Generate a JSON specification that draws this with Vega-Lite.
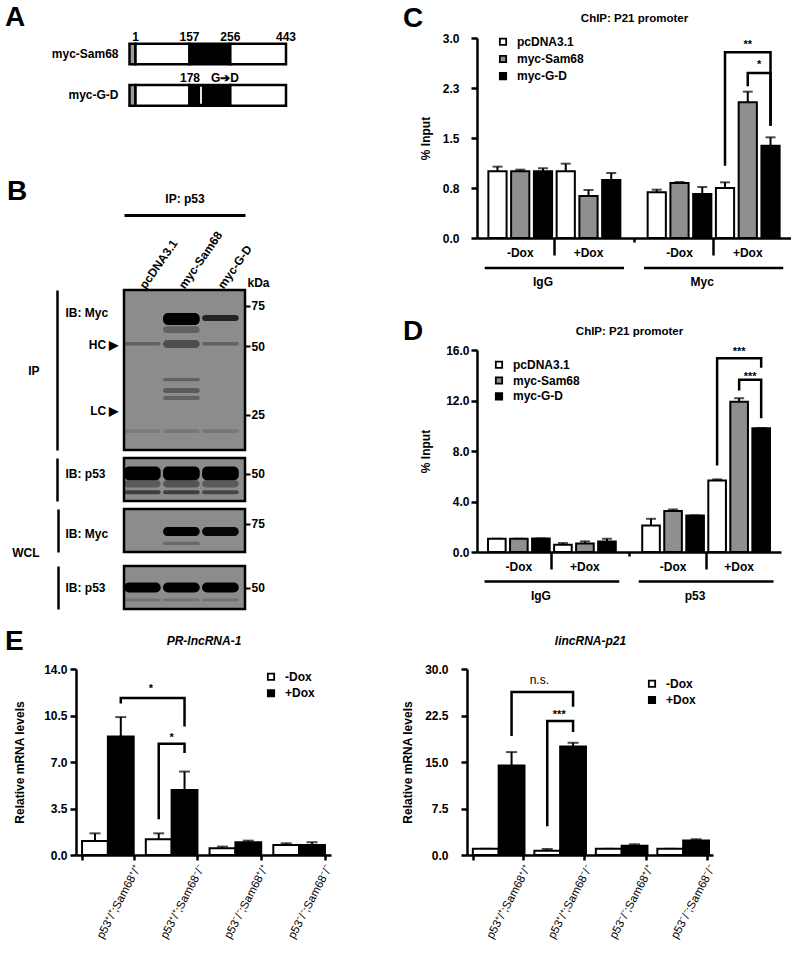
{
"$schema": "https://vega.github.io/schema/vega-lite/v6.json",
"background": "white",
"padding": {"left": 5, "top": 3, "right": 0, "bottom": 0},
"config": {
  "font": "Liberation Sans",
  "view": {"stroke": null},
  "axis": {"labelFontWeight": "bold", "labelFontSize": 12, "labelColor": "black", "titleFontWeight": "bold", "titleFontSize": 12, "titleColor": "black", "domainColor": "black", "tickColor": "black", "domainWidth": 2.5, "tickWidth": 2.5, "grid": false, "labelFlush": false, "labelOverlap": false, "labelBound": false},
  "legend": {"labelFontWeight": "bold", "labelFontSize": 12, "labelColor": "black", "symbolType": "square", "symbolSize": 40, "symbolStrokeColor": "black", "symbolStrokeWidth": 1.8, "rowPadding": 3, "labelOffset": 8, "padding": 0, "clipHeight": 13.5},
  "title": {"fontSize": 28, "fontWeight": "bold", "color": "black", "anchor": "start", "frame": "group", "baseline": "alphabetic", "offset": 0},
  "text": {"color": "black"}
},
"datasets": {
  "a_segments": [
    {"construct": "myc-Sam68", "region": "myc tag", "start": -14, "end": 1},
    {"construct": "myc-Sam68", "region": "N-terminal", "start": 1, "end": 157},
    {"construct": "myc-Sam68", "region": "KH domain", "start": 157, "end": 256},
    {"construct": "myc-Sam68", "region": "C-terminal", "start": 256, "end": 443},
    {"construct": "myc-G-D", "region": "myc tag", "start": -14, "end": 1},
    {"construct": "myc-G-D", "region": "N-terminal", "start": 1, "end": 157},
    {"construct": "myc-G-D", "region": "KH domain", "start": 157, "end": 256},
    {"construct": "myc-G-D", "region": "C-terminal", "start": 256, "end": 443}
  ],
  "b_s1": [
    {"lane": "2", "hi": 69.8, "lo": 61.8, "intensity": 1},
    {"lane": "3", "hi": 68.4, "lo": 64.3, "intensity": 0.75},
    {"lane": "2", "hi": 61.0, "lo": 57.0, "intensity": 0.3},
    {"lane": "1", "hi": 52.0, "lo": 50.3, "intensity": 0.3},
    {"lane": "2", "hi": 53.1, "lo": 49.0, "intensity": 0.45},
    {"lane": "3", "hi": 52.0, "lo": 50.3, "intensity": 0.3},
    {"lane": "2", "hi": 36.2, "lo": 35.0, "intensity": 0.3},
    {"lane": "2", "hi": 32.7, "lo": 31.1, "intensity": 0.35},
    {"lane": "2", "hi": 30.2, "lo": 29.0, "intensity": 0.3},
    {"lane": "1", "hi": 21.6, "lo": 20.8, "intensity": 0.12},
    {"lane": "2", "hi": 21.6, "lo": 20.8, "intensity": 0.15},
    {"lane": "3", "hi": 21.6, "lo": 20.8, "intensity": 0.15}
  ],
  "b_s2": [
    {"lane": "1", "hi": 53.8, "lo": 46.8, "intensity": 1},
    {"lane": "2", "hi": 53.8, "lo": 46.8, "intensity": 1},
    {"lane": "3", "hi": 53.8, "lo": 46.8, "intensity": 1},
    {"lane": "1", "hi": 46.8, "lo": 43.5, "intensity": 0.35},
    {"lane": "2", "hi": 46.8, "lo": 43.5, "intensity": 0.4},
    {"lane": "3", "hi": 46.8, "lo": 43.5, "intensity": 0.35},
    {"lane": "1", "hi": 42.3, "lo": 40.6, "intensity": 0.55},
    {"lane": "2", "hi": 42.3, "lo": 40.6, "intensity": 0.55},
    {"lane": "3", "hi": 42.3, "lo": 40.6, "intensity": 0.5}
  ],
  "b_s3": [
    {"lane": "2", "hi": 72.5, "lo": 66.2, "intensity": 1},
    {"lane": "3", "hi": 72.5, "lo": 66.2, "intensity": 0.95},
    {"lane": "2", "hi": 62.5, "lo": 60.5, "intensity": 0.25}
  ],
  "b_s4": [
    {"lane": "1", "hi": 52.6, "lo": 47.6, "intensity": 1},
    {"lane": "2", "hi": 52.6, "lo": 47.6, "intensity": 1},
    {"lane": "3", "hi": 52.6, "lo": 47.6, "intensity": 1},
    {"lane": "1", "hi": 44.8, "lo": 43.6, "intensity": 0.18},
    {"lane": "2", "hi": 44.8, "lo": 43.6, "intensity": 0.18},
    {"lane": "3", "hi": 44.8, "lo": 43.6, "intensity": 0.18}
  ],
  "c_bars": [
    {"bar": "IgG -Dox pcDNA3.1", "plasmid": "pcDNA3.1", "mean": 1.0, "err": 1.07},
    {"bar": "IgG -Dox myc-Sam68", "plasmid": "myc-Sam68", "mean": 1.0, "err": 1.025},
    {"bar": "IgG -Dox myc-G-D", "plasmid": "myc-G-D", "mean": 1.0, "err": 1.045},
    {"bar": "IgG +Dox pcDNA3.1", "plasmid": "pcDNA3.1", "mean": 1.0, "err": 1.115},
    {"bar": "IgG +Dox myc-Sam68", "plasmid": "myc-Sam68", "mean": 0.63, "err": 0.72},
    {"bar": "IgG +Dox myc-G-D", "plasmid": "myc-G-D", "mean": 0.87, "err": 0.975},
    {"bar": "Myc -Dox pcDNA3.1", "plasmid": "pcDNA3.1", "mean": 0.685, "err": 0.725},
    {"bar": "Myc -Dox myc-Sam68", "plasmid": "myc-Sam68", "mean": 0.825, "err": 0.84},
    {"bar": "Myc -Dox myc-G-D", "plasmid": "myc-G-D", "mean": 0.66, "err": 0.765},
    {"bar": "Myc +Dox pcDNA3.1", "plasmid": "pcDNA3.1", "mean": 0.75, "err": 0.835},
    {"bar": "Myc +Dox myc-Sam68", "plasmid": "myc-Sam68", "mean": 2.035, "err": 2.195},
    {"bar": "Myc +Dox myc-G-D", "plasmid": "myc-G-D", "mean": 1.385, "err": 1.51}
  ],
  "c_br": [
    {"br": "a", "ord": 1, "bar": "Myc +Dox pcDNA3.1", "y": 1.085},
    {"br": "a", "ord": 2, "bar": "Myc +Dox pcDNA3.1", "y": 2.785},
    {"br": "a", "ord": 3, "bar": "Myc +Dox myc-G-D", "y": 2.785},
    {"br": "a", "ord": 4, "bar": "Myc +Dox myc-G-D", "y": 1.685},
    {"br": "b", "ord": 1, "bar": "Myc +Dox myc-Sam68", "y": 2.275},
    {"br": "b", "ord": 2, "bar": "Myc +Dox myc-Sam68", "y": 2.475},
    {"br": "b", "ord": 3, "bar": "Myc +Dox myc-G-D", "y": 2.475},
    {"br": "b", "ord": 4, "bar": "Myc +Dox myc-G-D", "y": 1.685}
  ],
  "c_groups": [
    {"group": "IgG", "bar": "IgG -Dox pcDNA3.1", "to": "IgG +Dox myc-G-D"},
    {"group": "Myc", "bar": "Myc -Dox pcDNA3.1", "to": "Myc +Dox myc-G-D"}
  ],
  "d_bars": [
    {"bar": "IgG -Dox pcDNA3.1", "plasmid": "pcDNA3.1", "mean": 1.05, "err": 1.05},
    {"bar": "IgG -Dox myc-Sam68", "plasmid": "myc-Sam68", "mean": 1.05, "err": 1.05},
    {"bar": "IgG -Dox myc-G-D", "plasmid": "myc-G-D", "mean": 1.07, "err": 1.07},
    {"bar": "IgG +Dox pcDNA3.1", "plasmid": "pcDNA3.1", "mean": 0.58, "err": 0.71},
    {"bar": "IgG +Dox myc-Sam68", "plasmid": "myc-Sam68", "mean": 0.68, "err": 0.84},
    {"bar": "IgG +Dox myc-G-D", "plasmid": "myc-G-D", "mean": 0.84, "err": 1.05},
    {"bar": "p53 -Dox pcDNA3.1", "plasmid": "pcDNA3.1", "mean": 2.1, "err": 2.63},
    {"bar": "p53 -Dox myc-Sam68", "plasmid": "myc-Sam68", "mean": 3.24, "err": 3.37},
    {"bar": "p53 -Dox myc-G-D", "plasmid": "myc-G-D", "mean": 2.9, "err": 2.9},
    {"bar": "p53 +Dox pcDNA3.1", "plasmid": "pcDNA3.1", "mean": 5.67, "err": 5.75},
    {"bar": "p53 +Dox myc-Sam68", "plasmid": "myc-Sam68", "mean": 11.91, "err": 12.18},
    {"bar": "p53 +Dox myc-G-D", "plasmid": "myc-G-D", "mean": 9.81, "err": 9.81}
  ],
  "d_br": [
    {"br": "a", "ord": 1, "bar": "p53 +Dox pcDNA3.1", "y": 6.85},
    {"br": "a", "ord": 2, "bar": "p53 +Dox pcDNA3.1", "y": 15.35},
    {"br": "a", "ord": 3, "bar": "p53 +Dox myc-G-D", "y": 15.35},
    {"br": "a", "ord": 4, "bar": "p53 +Dox myc-G-D", "y": 14.6},
    {"br": "b", "ord": 1, "bar": "p53 +Dox myc-Sam68", "y": 12.79},
    {"br": "b", "ord": 2, "bar": "p53 +Dox myc-Sam68", "y": 13.64},
    {"br": "b", "ord": 3, "bar": "p53 +Dox myc-G-D", "y": 13.64},
    {"br": "b", "ord": 4, "bar": "p53 +Dox myc-G-D", "y": 10.6}
  ],
  "d_groups": [
    {"group": "IgG", "bar": "IgG -Dox pcDNA3.1", "to": "IgG +Dox myc-G-D"},
    {"group": "p53", "bar": "p53 -Dox pcDNA3.1", "to": "p53 +Dox myc-G-D"}
  ],
  "e1_bars": [
    {"genotype": "p53⁺/⁺;Sam68⁺/⁺", "dox": "-Dox", "mean": 1.06, "err": 1.63},
    {"genotype": "p53⁺/⁺;Sam68⁺/⁺", "dox": "+Dox", "mean": 8.92, "err": 10.38},
    {"genotype": "p53⁺/⁺;Sam68⁻/⁻", "dox": "-Dox", "mean": 1.18, "err": 1.63},
    {"genotype": "p53⁺/⁺;Sam68⁻/⁻", "dox": "+Dox", "mean": 4.9, "err": 6.28},
    {"genotype": "p53⁻/⁻;Sam68⁺/⁺", "dox": "-Dox", "mean": 0.5, "err": 0.63},
    {"genotype": "p53⁻/⁻;Sam68⁺/⁺", "dox": "+Dox", "mean": 0.96, "err": 1.08},
    {"genotype": "p53⁻/⁻;Sam68⁻/⁻", "dox": "-Dox", "mean": 0.75, "err": 0.88},
    {"genotype": "p53⁻/⁻;Sam68⁻/⁻", "dox": "+Dox", "mean": 0.75, "err": 0.96}
  ],
  "e1_br": [
    {"br": "a", "ord": 1, "genotype": "p53⁺/⁺;Sam68⁺/⁺", "dox": "+Dox", "y": 11.4},
    {"br": "a", "ord": 2, "genotype": "p53⁺/⁺;Sam68⁺/⁺", "dox": "+Dox", "y": 11.82},
    {"br": "a", "ord": 3, "genotype": "p53⁺/⁺;Sam68⁻/⁻", "dox": "+Dox", "y": 11.82},
    {"br": "a", "ord": 4, "genotype": "p53⁺/⁺;Sam68⁻/⁻", "dox": "+Dox", "y": 9.68},
    {"br": "b", "ord": 1, "genotype": "p53⁺/⁺;Sam68⁻/⁻", "dox": "-Dox", "y": 2.69},
    {"br": "b", "ord": 2, "genotype": "p53⁺/⁺;Sam68⁻/⁻", "dox": "-Dox", "y": 8.37},
    {"br": "b", "ord": 3, "genotype": "p53⁺/⁺;Sam68⁻/⁻", "dox": "+Dox", "y": 8.37},
    {"br": "b", "ord": 4, "genotype": "p53⁺/⁺;Sam68⁻/⁻", "dox": "+Dox", "y": 7.67}
  ],
  "e2_bars": [
    {"genotype": "p53⁺/⁺;Sam68⁺/⁺", "dox": "-Dox", "mean": 1.0, "err": 1.0},
    {"genotype": "p53⁺/⁺;Sam68⁺/⁺", "dox": "+Dox", "mean": 14.45, "err": 16.6},
    {"genotype": "p53⁺/⁺;Sam68⁻/⁻", "dox": "-Dox", "mean": 0.7, "err": 0.97},
    {"genotype": "p53⁺/⁺;Sam68⁻/⁻", "dox": "+Dox", "mean": 17.52, "err": 18.1},
    {"genotype": "p53⁻/⁻;Sam68⁺/⁺", "dox": "-Dox", "mean": 1.0, "err": 1.0},
    {"genotype": "p53⁻/⁻;Sam68⁺/⁺", "dox": "+Dox", "mean": 1.5, "err": 1.73},
    {"genotype": "p53⁻/⁻;Sam68⁻/⁻", "dox": "-Dox", "mean": 1.0, "err": 1.0},
    {"genotype": "p53⁻/⁻;Sam68⁻/⁻", "dox": "+Dox", "mean": 2.32, "err": 2.54}
  ],
  "e2_br": [
    {"br": "a", "ord": 1, "genotype": "p53⁺/⁺;Sam68⁺/⁺", "dox": "+Dox", "y": 19.2},
    {"br": "a", "ord": 2, "genotype": "p53⁺/⁺;Sam68⁺/⁺", "dox": "+Dox", "y": 26.3},
    {"br": "a", "ord": 3, "genotype": "p53⁺/⁺;Sam68⁻/⁻", "dox": "+Dox", "y": 26.3},
    {"br": "a", "ord": 4, "genotype": "p53⁺/⁺;Sam68⁻/⁻", "dox": "+Dox", "y": 23.9},
    {"br": "b", "ord": 1, "genotype": "p53⁺/⁺;Sam68⁻/⁻", "dox": "-Dox", "y": 4.64},
    {"br": "b", "ord": 2, "genotype": "p53⁺/⁺;Sam68⁻/⁻", "dox": "-Dox", "y": 21.6},
    {"br": "b", "ord": 3, "genotype": "p53⁺/⁺;Sam68⁻/⁻", "dox": "+Dox", "y": 21.6},
    {"br": "b", "ord": 4, "genotype": "p53⁺/⁺;Sam68⁻/⁻", "dox": "+Dox", "y": 19.85}
  ]
},
"resolve": {"scale": {"fill": "independent"}, "legend": {"fill": "independent"}},
"columns": 1,
"align": "none",
"spacing": 17,
"concat": [
 {
  "resolve": {"scale": {"fill": "independent"}, "legend": {"fill": "independent"}},
  "columns": 2,
  "align": "none",
  "spacing": 106,
  "concat": [
   {
    "resolve": {"scale": {"fill": "independent"}, "legend": {"fill": "independent"}},
    "spacing": 4,
    "vconcat": [
     {
      "width": 165, "height": 134,
      "title": {"text": "A", "dx": -119, "dy": 4.5},
      "layer": [
       {"data": {"name": "a_segments"}, "mark": {"type": "rect", "stroke": "black", "strokeWidth": 2.5},
        "encoding": {
         "x": {"field": "start", "type": "quantitative", "scale": {"domain": [-14, 1, 157, 178, 256, 443], "range": [5.5, 11.5, 65.5, 77, 106.3, 162], "nice": false, "zero": false}, "axis": null},
         "x2": {"field": "end"},
         "y": {"field": "construct", "type": "nominal", "scale": {"type": "band", "domain": ["myc-Sam68", "myc-G-D"], "range": [-4.65, 77.95], "paddingInner": 0.5, "paddingOuter": 0.25}, "axis": {"ticks": false, "domain": false, "labelPadding": 6, "title": null}},
         "fill": {"field": "region", "type": "nominal", "scale": {"domain": ["myc tag", "N-terminal", "KH domain", "C-terminal"], "range": ["#9a9a9a", "white", "black", "white"]}, "legend": null}
        }},
       {"data": {"values": [{"construct": "myc-G-D", "site": 178}]}, "mark": {"type": "tick", "color": "white", "thickness": 1.8, "size": 17, "opacity": 1},
        "encoding": {"x": {"field": "site", "type": "quantitative", "axis": null}, "y": {"field": "construct", "type": "nominal", "axis": null}}},
       {"data": {"values": [{"construct": "myc-Sam68", "pos": 1, "label": "1"}, {"construct": "myc-Sam68", "pos": 157, "label": "157"}, {"construct": "myc-Sam68", "pos": 256, "label": "256"}, {"construct": "myc-Sam68", "pos": 443, "label": "443"}]},
        "mark": {"type": "text", "fontSize": 12, "fontWeight": "bold", "baseline": "middle", "dy": -17},
        "encoding": {"x": {"field": "pos", "type": "quantitative", "axis": null}, "y": {"field": "construct", "type": "nominal", "axis": null}, "text": {"field": "label"}}},
       {"data": {"values": [{"construct": "myc-G-D", "pos": 178, "label": "178"}]},
        "mark": {"type": "text", "fontSize": 12, "fontWeight": "bold", "baseline": "middle", "align": "right", "dy": -17, "dx": -1},
        "encoding": {"x": {"field": "pos", "type": "quantitative", "axis": null}, "y": {"field": "construct", "type": "nominal", "axis": null}, "text": {"field": "label"}}},
       {"data": {"values": [{"construct": "myc-G-D", "pos": 178, "label": "G➔D"}]},
        "mark": {"type": "text", "fontSize": 12, "fontWeight": "bold", "baseline": "middle", "align": "left", "dy": -17, "dx": 10},
        "encoding": {"x": {"field": "pos", "type": "quantitative", "axis": null}, "y": {"field": "construct", "type": "nominal", "axis": null}, "text": {"field": "label"}}}
      ],
      "resolve": {"axis": {"x": "independent", "y": "independent"}}
     },
     {
      "width": 121, "height": 160,
      "title": {"text": "B", "dx": -117, "dy": 18},
      "view": {"fill": "#8c8c8c", "stroke": "black", "strokeWidth": 2.5},
      "layer": [
       {"data": {"name": "b_s1"}, "mark": {"type": "rect", "cornerRadius": 5, "fill": "black"},
        "encoding": {
         "x": {"field": "lane", "type": "nominal", "scale": {"type": "band", "domain": ["1", "2", "3"], "paddingInner": 0.06, "paddingOuter": 0.08, "align": 0},
               "axis": {"orient": "top", "labelExpr": "['pcDNA3.1','myc-Sam68','myc-G-D'][toNumber(datum.value)-1]", "labelAngle": -55, "labelAlign": "left", "labelBaseline": "middle", "ticks": false, "domain": false, "labelPadding": 3, "title": null}},
         "y": {"field": "hi", "type": "quantitative", "scale": {"type": "log", "domain": [17.5, 88], "nice": false},
               "axis": {"orient": "right", "values": [25, 50, 75], "tickSize": 5, "tickWidth": 2, "labelPadding": 1, "domain": false, "title": "kDa", "titleAngle": 0, "titleAlign": "left", "titleBaseline": "bottom", "titleX": 2, "titleY": -1}},
         "y2": {"field": "lo"},
         "opacity": {"field": "intensity", "type": "quantitative", "scale": null, "legend": null}
        }},
       {"data": {"values": [{"lane": "1", "kda": 50}]}, "mark": {"type": "point", "opacity": 0},
        "encoding": {
         "x": {"field": "lane", "type": "nominal", "axis": {"orient": "top", "offset": 75, "labels": false, "ticks": false, "domain": true, "domainWidth": 3, "title": "IP: p53", "titlePadding": 10}},
         "y": {"field": "kda", "type": "quantitative", "axis": {"orient": "left", "values": [51, 26], "labelExpr": "datum.value > 40 ? 'HC ▶' : 'LC ▶'", "ticks": false, "domain": false, "labelPadding": 6, "title": null}}
        }},
       {"data": {"values": [{"lane": "1", "kda": 50}]}, "mark": {"type": "point", "opacity": 0},
        "encoding": {
         "x": {"field": "lane", "type": "nominal", "axis": null},
         "y": {"field": "kda", "type": "quantitative", "axis": {"orient": "left", "values": [69.8], "labelExpr": "'IB: Myc'", "labelAlign": "left", "ticks": false, "domain": false, "labelPadding": 59, "title": null}}
        }},
       {"data": {"values": [{"lane": "1", "kda": 50}]}, "mark": {"type": "point", "opacity": 0},
        "encoding": {
         "x": {"field": "lane", "type": "nominal", "axis": null},
         "y": {"field": "kda", "type": "quantitative", "axis": {"orient": "left", "offset": 67, "labels": false, "ticks": false, "domain": true, "title": "IP", "titleAngle": 0, "titleAlign": "right", "titleBaseline": "middle", "titlePadding": 18}}
        }}
      ],
      "resolve": {"axis": {"x": "independent", "y": "independent"}}
     },
     {
      "width": 121, "height": 43,
      "view": {"fill": "#8c8c8c", "stroke": "black", "strokeWidth": 2.5},
      "layer": [
       {"data": {"name": "b_s2"}, "mark": {"type": "rect", "cornerRadius": 5, "fill": "black"},
        "encoding": {
         "x": {"field": "lane", "type": "nominal", "scale": {"type": "band", "domain": ["1", "2", "3"], "paddingInner": 0.06, "paddingOuter": 0.08, "align": 0}, "axis": null},
         "y": {"field": "hi", "type": "quantitative", "scale": {"type": "log", "domain": [37.9, 58.6], "nice": false},
               "axis": {"orient": "right", "values": [50], "tickSize": 5, "tickWidth": 2, "labelPadding": 1, "domain": false, "title": null}},
         "y2": {"field": "lo"},
         "opacity": {"field": "intensity", "type": "quantitative", "scale": null, "legend": null}
        }},
       {"data": {"values": [{"lane": "1", "kda": 50}]}, "mark": {"type": "point", "opacity": 0},
        "encoding": {
         "x": {"field": "lane", "type": "nominal", "axis": null},
         "y": {"field": "kda", "type": "quantitative", "axis": {"orient": "left", "values": [50], "labelExpr": "'IB: p53'", "labelAlign": "left", "ticks": false, "domain": false, "labelPadding": 59, "title": null}}
        }},
       {"data": {"values": [{"lane": "1", "kda": 50}]}, "mark": {"type": "point", "opacity": 0},
        "encoding": {
         "x": {"field": "lane", "type": "nominal", "axis": null},
         "y": {"field": "kda", "type": "quantitative", "axis": {"orient": "left", "offset": 67, "labels": false, "ticks": false, "domain": true, "title": null}}
        }}
      ],
      "resolve": {"axis": {"y": "independent"}}
     },
     {
      "width": 121, "height": 43,
      "view": {"fill": "#8c8c8c", "stroke": "black", "strokeWidth": 2.5},
      "layer": [
       {"data": {"name": "b_s3"}, "mark": {"type": "rect", "cornerRadius": 5, "fill": "black"},
        "encoding": {
         "x": {"field": "lane", "type": "nominal", "scale": {"type": "band", "domain": ["1", "2", "3"], "paddingInner": 0.06, "paddingOuter": 0.08, "align": 0}, "axis": null},
         "y": {"field": "hi", "type": "quantitative", "scale": {"type": "log", "domain": [56.4, 87], "nice": false},
               "axis": {"orient": "right", "values": [75], "tickSize": 5, "tickWidth": 2, "labelPadding": 1, "domain": false, "title": null}},
         "y2": {"field": "lo"},
         "opacity": {"field": "intensity", "type": "quantitative", "scale": null, "legend": null}
        }},
       {"data": {"values": [{"lane": "1", "kda": 70}]}, "mark": {"type": "point", "opacity": 0},
        "encoding": {
         "x": {"field": "lane", "type": "nominal", "axis": null},
         "y": {"field": "kda", "type": "quantitative", "axis": {"orient": "left", "values": [67.8], "labelExpr": "'IB: Myc'", "labelAlign": "left", "ticks": false, "domain": false, "labelPadding": 59, "title": null}}
        }},
       {"data": {"values": [{"lane": "1", "kda": 70}]}, "mark": {"type": "point", "opacity": 0},
        "encoding": {
         "x": {"field": "lane", "type": "nominal", "axis": null},
         "y": {"field": "kda", "type": "quantitative", "axis": {"orient": "left", "offset": 66, "labels": false, "ticks": false, "domain": true, "title": "WCL", "titleAngle": 0, "titleAlign": "right", "titleBaseline": "middle", "titleAnchor": "start", "titlePadding": 19}}
        }}
      ],
      "resolve": {"axis": {"y": "independent"}}
     },
     {
      "width": 121, "height": 43,
      "view": {"fill": "#8c8c8c", "stroke": "black", "strokeWidth": 2.5},
      "layer": [
       {"data": {"name": "b_s4"}, "mark": {"type": "rect", "cornerRadius": 5, "fill": "black"},
        "encoding": {
         "x": {"field": "lane", "type": "nominal", "scale": {"type": "band", "domain": ["1", "2", "3"], "paddingInner": 0.06, "paddingOuter": 0.08, "align": 0},
               "axis": {"orient": "bottom", "labelAngle": 0, "ticks": false, "domain": false, "labelPadding": 8, "title": null}},
         "y": {"field": "hi", "type": "quantitative", "scale": {"type": "log", "domain": [40.3, 62.2], "nice": false},
               "axis": {"orient": "right", "values": [50], "tickSize": 5, "tickWidth": 2, "labelPadding": 1, "domain": false, "title": null}},
         "y2": {"field": "lo"},
         "opacity": {"field": "intensity", "type": "quantitative", "scale": null, "legend": null}
        }},
       {"data": {"values": [{"lane": "1", "kda": 50}]}, "mark": {"type": "point", "opacity": 0},
        "encoding": {
         "x": {"field": "lane", "type": "nominal", "axis": null},
         "y": {"field": "kda", "type": "quantitative", "axis": {"orient": "left", "values": [50.3], "labelExpr": "'IB: p53'", "labelAlign": "left", "ticks": false, "domain": false, "labelPadding": 59, "title": null}}
        }},
       {"data": {"values": [{"lane": "1", "kda": 50}]}, "mark": {"type": "point", "opacity": 0},
        "encoding": {
         "x": {"field": "lane", "type": "nominal", "axis": null},
         "y": {"field": "kda", "type": "quantitative", "axis": {"orient": "left", "offset": 66, "labels": false, "ticks": false, "domain": true, "title": null}}
        }}
      ],
      "resolve": {"axis": {"y": "independent"}}
     }
    ]
   },
   {
    "resolve": {"scale": {"fill": "independent"}, "legend": {"fill": "independent"}},
    "spacing": 30,
    "vconcat": [
     {
      "width": 314, "height": 200,
      "title": {"text": "C", "dx": -74, "dy": 25},
      "layer": [
       {"data": {"name": "c_bars"}, "mark": {"type": "rule", "strokeWidth": 2, "color": "black"},
        "encoding": {
         "x": {"field": "bar", "type": "nominal", "scale": {"type": "band", "domain": ["IgG -Dox pcDNA3.1", "IgG -Dox myc-Sam68", "IgG -Dox myc-G-D", "IgG +Dox pcDNA3.1", "IgG +Dox myc-Sam68", "IgG +Dox myc-G-D", "gap", "Myc -Dox pcDNA3.1", "Myc -Dox myc-Sam68", "Myc -Dox myc-G-D", "Myc +Dox pcDNA3.1", "Myc +Dox myc-Sam68", "Myc +Dox myc-G-D"], "paddingInner": 0.2, "paddingOuter": 0.5},
               "axis": {"orient": "bottom", "values": ["IgG -Dox myc-G-D", "Myc -Dox myc-G-D"], "bandPosition": 1.125, "labelExpr": "slice(datum.value,0,3)", "ticks": true, "tickSize": 17, "tickWidth": 2.5, "domain": false, "labelPadding": 21, "labelAngle": 0, "title": null}},
         "y": {"field": "mean", "type": "quantitative", "axis": null},
         "y2": {"field": "err"}
        }},
       {"data": {"name": "c_bars"}, "mark": {"type": "tick", "size": 10, "thickness": 2, "color": "black"},
        "encoding": {
         "x": {"field": "bar", "type": "nominal", "axis": null},
         "y": {"field": "err", "type": "quantitative", "axis": null}
        }},
       {"data": {"name": "c_bars"}, "mark": {"type": "bar", "stroke": "black", "strokeWidth": 2},
        "encoding": {
         "x": {"field": "bar", "type": "nominal",
               "axis": {"orient": "bottom", "values": ["IgG -Dox myc-Sam68", "IgG +Dox myc-Sam68", "Myc -Dox myc-Sam68", "Myc +Dox myc-Sam68"], "labelExpr": "slice(datum.value,4,8)", "ticks": false, "domain": true, "labelPadding": 9, "labelAngle": 0, "title": null}},
         "y": {"field": "mean", "type": "quantitative", "scale": {"domain": [0, 3], "nice": false},
               "axis": {"values": [0, 0.75, 1.5, 2.25, 3], "format": ".1f", "tickSize": 6, "labelPadding": 12, "title": "% Input", "titlePadding": 10}},
         "fill": {"field": "plasmid", "type": "nominal", "scale": {"domain": ["pcDNA3.1", "myc-Sam68", "myc-G-D"], "range": ["white", "#8f8f8f", "black"]},
                  "legend": {"title": null, "orient": "none", "legendX": 20, "legendY": -3, "rowPadding": 3.2}}
        }},
       {"data": {"name": "c_groups"}, "mark": {"type": "rule", "strokeWidth": 2.5, "color": "black"},
        "encoding": {
         "x": {"field": "bar", "type": "nominal", "bandPosition": -0.2, "axis": null},
         "x2": {"field": "to", "bandPosition": 1.2},
         "y": {"datum": -0.45, "axis": null}
        }},
       {"data": {"name": "c_br"}, "mark": {"type": "line", "color": "black", "strokeWidth": 2.5, "strokeJoin": "miter"},
        "encoding": {
         "x": {"field": "bar", "type": "nominal", "axis": {"orient": "bottom", "values": ["gap"], "ticks": true, "tickSize": 4, "labels": false, "domain": false, "title": null}},
         "y": {"field": "y", "type": "quantitative", "axis": null},
         "detail": {"field": "br", "type": "nominal"},
         "order": {"field": "ord", "type": "quantitative"}
        }},
       {"data": {"values": [{"bar": "Myc +Dox myc-Sam68", "y": 2.945, "label": "**"}]}, "mark": {"type": "text", "fontSize": 11, "fontWeight": "bold", "baseline": "middle", "dy": 3},
        "encoding": {
         "x": {"field": "bar", "type": "nominal", "axis": {"orient": "top", "labels": false, "ticks": false, "domain": false, "title": "ChIP: P21 promoter", "titlePadding": 15, "titleFontSize": 11.5}},
         "y": {"field": "y", "type": "quantitative", "axis": null},
         "text": {"field": "label"}
        }},
       {"data": {"values": [{"bar": "Myc +Dox myc-Sam68", "y": 2.635, "label": "*"}]}, "mark": {"type": "text", "fontSize": 11, "fontWeight": "bold", "baseline": "middle", "dy": 3},
        "encoding": {
         "x": {"field": "bar", "type": "nominal", "bandPosition": 1.125, "axis": null},
         "y": {"field": "y", "type": "quantitative", "axis": null},
         "text": {"field": "label"}
        }}
      ],
      "resolve": {"axis": {"x": "independent", "y": "independent"}}
     },
     {
      "width": 304, "height": 202,
      "title": {"text": "D", "dx": -74, "dy": 24.7},
      "layer": [
       {"data": {"name": "d_bars"}, "mark": {"type": "rule", "strokeWidth": 2, "color": "black"},
        "encoding": {
         "x": {"field": "bar", "type": "nominal", "scale": {"type": "band", "domain": ["IgG -Dox pcDNA3.1", "IgG -Dox myc-Sam68", "IgG -Dox myc-G-D", "IgG +Dox pcDNA3.1", "IgG +Dox myc-Sam68", "IgG +Dox myc-G-D", "gap", "p53 -Dox pcDNA3.1", "p53 -Dox myc-Sam68", "p53 -Dox myc-G-D", "p53 +Dox pcDNA3.1", "p53 +Dox myc-Sam68", "p53 +Dox myc-G-D"], "paddingInner": 0.2, "paddingOuter": 0.5},
               "axis": {"orient": "bottom", "values": ["IgG -Dox myc-G-D", "p53 -Dox myc-G-D"], "bandPosition": 1.125, "labelExpr": "slice(datum.value,0,3)", "ticks": true, "tickSize": 17, "tickWidth": 2.5, "domain": false, "labelPadding": 21, "labelAngle": 0, "title": null}},
         "y": {"field": "mean", "type": "quantitative", "axis": null},
         "y2": {"field": "err"}
        }},
       {"data": {"name": "d_bars"}, "mark": {"type": "tick", "size": 10, "thickness": 2, "color": "black"},
        "encoding": {
         "x": {"field": "bar", "type": "nominal", "axis": null},
         "y": {"field": "err", "type": "quantitative", "axis": null}
        }},
       {"data": {"name": "d_bars"}, "mark": {"type": "bar", "stroke": "black", "strokeWidth": 2},
        "encoding": {
         "x": {"field": "bar", "type": "nominal",
               "axis": {"orient": "bottom", "values": ["IgG -Dox myc-Sam68", "IgG +Dox myc-Sam68", "p53 -Dox myc-Sam68", "p53 +Dox myc-Sam68"], "labelExpr": "slice(datum.value,4,8)", "ticks": false, "domain": true, "labelPadding": 9, "labelAngle": 0, "title": null}},
         "y": {"field": "mean", "type": "quantitative", "scale": {"domain": [0, 16], "nice": false},
               "axis": {"values": [0, 4, 8, 12, 16], "format": ".1f", "tickSize": 6, "labelPadding": 2, "title": "% Input", "titlePadding": 13}},
         "fill": {"field": "plasmid", "type": "nominal", "scale": {"domain": ["pcDNA3.1", "myc-Sam68", "myc-G-D"], "range": ["white", "#8f8f8f", "black"]},
                  "legend": {"title": null, "orient": "none", "legendX": 16, "legendY": 8, "rowPadding": 1.8}}
        }},
       {"data": {"name": "d_groups"}, "mark": {"type": "rule", "strokeWidth": 2.5, "color": "black"},
        "encoding": {
         "x": {"field": "bar", "type": "nominal", "bandPosition": -0.2, "axis": null},
         "x2": {"field": "to", "bandPosition": 1.2},
         "y": {"datum": -2.33, "axis": null}
        }},
       {"data": {"name": "d_br"}, "mark": {"type": "line", "color": "black", "strokeWidth": 2.5, "strokeJoin": "miter"},
        "encoding": {
         "x": {"field": "bar", "type": "nominal", "axis": {"orient": "bottom", "values": ["gap"], "ticks": true, "tickSize": 4, "labels": false, "domain": false, "title": null}},
         "y": {"field": "y", "type": "quantitative", "axis": null},
         "detail": {"field": "br", "type": "nominal"},
         "order": {"field": "ord", "type": "quantitative"}
        }},
       {"data": {"values": [{"bar": "p53 +Dox myc-Sam68", "y": 16.1, "label": "***"}]}, "mark": {"type": "text", "fontSize": 11, "fontWeight": "bold", "baseline": "middle", "dy": 3},
        "encoding": {
         "x": {"field": "bar", "type": "nominal", "axis": {"orient": "top", "labels": false, "ticks": false, "domain": false, "title": "ChIP: P21 promoter", "titlePadding": 14, "titleFontSize": 11.5}},
         "y": {"field": "y", "type": "quantitative", "axis": null},
         "text": {"field": "label"}
        }},
       {"data": {"values": [{"bar": "p53 +Dox myc-Sam68", "y": 14.1, "label": "***"}]}, "mark": {"type": "text", "fontSize": 11, "fontWeight": "bold", "baseline": "middle", "dy": 3},
        "encoding": {
         "x": {"field": "bar", "type": "nominal", "bandPosition": 1.125, "axis": null},
         "y": {"field": "y", "type": "quantitative", "axis": null},
         "text": {"field": "label"}
        }}
      ],
      "resolve": {"axis": {"x": "independent", "y": "independent"}}
     }
    ]
   }
  ]
 },
 {
  "resolve": {"scale": {"fill": "independent"}, "legend": {"fill": "independent"}},
  "spacing": 22,
  "hconcat": [
   {
    "width": 207, "height": 186,
    "title": {"text": "E", "dx": -119, "dy": 26},
    "layer": [
     {"data": {"name": "e1_bars"}, "mark": {"type": "rule", "strokeWidth": 2, "color": "black"},
      "encoding": {
       "x": {"field": "genotype", "type": "nominal", "scale": {"type": "band", "domain": ["p53⁺/⁺;Sam68⁺/⁺", "p53⁺/⁺;Sam68⁻/⁻", "p53⁻/⁻;Sam68⁺/⁺", "p53⁻/⁻;Sam68⁻/⁻"], "range": [-48, 207], "paddingInner": 0.19, "paddingOuter": 0.095},
             "axis": {"orient": "top", "labels": false, "ticks": false, "domain": false, "title": "PR-lncRNA-1", "titleFontStyle": "italic", "titlePadding": 22}},
       "xOffset": {"field": "dox", "type": "nominal", "scale": {"domain": ["-Dox", "+Dox"], "paddingInner": 0, "paddingOuter": 0}},
       "y": {"field": "mean", "type": "quantitative", "axis": null},
       "y2": {"field": "err"}
      }},
     {"data": {"name": "e1_bars"}, "mark": {"type": "tick", "size": 11, "thickness": 2, "color": "black"},
      "encoding": {
       "x": {"field": "genotype", "type": "nominal", "axis": null},
       "xOffset": {"field": "dox", "type": "nominal"},
       "y": {"field": "err", "type": "quantitative", "axis": null}
      }},
     {"data": {"name": "e1_bars"}, "mark": {"type": "bar", "stroke": "black", "strokeWidth": 2},
      "encoding": {
       "x": {"field": "genotype", "type": "nominal",
             "axis": {"orient": "bottom", "tickBand": "extent", "ticks": true, "tickSize": 5, "domain": true, "labelAngle": -62, "labelAlign": "right", "labelBaseline": "middle", "labelOffset": 30, "labelPadding": 6, "labelFontWeight": "normal", "labelFontSize": 11.5, "title": null}},
       "xOffset": {"field": "dox", "type": "nominal"},
       "y": {"field": "mean", "type": "quantitative", "scale": {"domain": [0, 14], "nice": false},
             "axis": {"offset": 48, "values": [0, 3.5, 7, 10.5, 14], "format": ".1f", "tickSize": 6, "labelPadding": 3, "title": "Relative mRNA levels", "titlePadding": 17}},
       "fill": {"field": "dox", "type": "nominal", "scale": {"domain": ["-Dox", "+Dox"], "range": ["white", "black"]},
                "legend": {"title": null, "orient": "none", "legendX": 141, "legendY": 1, "rowPadding": 2.5}}
      }},
     {"data": {"name": "e1_br"}, "mark": {"type": "line", "color": "black", "strokeWidth": 2.5, "strokeJoin": "miter"},
      "encoding": {
       "x": {"field": "genotype", "type": "nominal", "axis": null},
       "xOffset": {"field": "dox", "type": "nominal"},
       "y": {"field": "y", "type": "quantitative", "axis": null},
       "detail": {"field": "br", "type": "nominal"},
       "order": {"field": "ord", "type": "quantitative"}
      }},
     {"data": {"values": [{"genotype": "p53⁺/⁺;Sam68⁻/⁻", "y": 9.05, "label": "*"}]}, "mark": {"type": "text", "fontSize": 11, "fontWeight": "bold", "baseline": "middle", "dy": 3},
      "encoding": {
       "x": {"field": "genotype", "type": "nominal", "axis": null},
       "y": {"field": "y", "type": "quantitative", "axis": null},
       "text": {"field": "label"}
      }},
     {"data": {"values": [{"genotype": "p53⁺/⁺;Sam68⁻/⁻", "y": 12.7, "label": "*"}]}, "mark": {"type": "text", "fontSize": 11, "fontWeight": "bold", "baseline": "middle", "dy": 3},
      "encoding": {
       "x": {"field": "genotype", "type": "nominal", "bandPosition": 0.1, "axis": null},
       "y": {"field": "y", "type": "quantitative", "axis": null},
       "text": {"field": "label"}
      }}
    ],
    "resolve": {"axis": {"x": "independent", "y": "independent"}}
   },
   {
    "width": 246, "height": 186,
    "layer": [
     {"data": {"name": "e2_bars"}, "mark": {"type": "rule", "strokeWidth": 2, "color": "black"},
      "encoding": {
       "x": {"field": "genotype", "type": "nominal", "scale": {"type": "band", "domain": ["p53⁺/⁺;Sam68⁺/⁺", "p53⁺/⁺;Sam68⁻/⁻", "p53⁻/⁻;Sam68⁺/⁺", "p53⁻/⁻;Sam68⁻/⁻"], "paddingInner": 0.19, "paddingOuter": 0.095},
             "axis": {"orient": "top", "labels": false, "ticks": false, "domain": false, "title": "lincRNA-p21", "titleFontStyle": "italic", "titlePadding": 22}},
       "xOffset": {"field": "dox", "type": "nominal", "scale": {"domain": ["-Dox", "+Dox"], "paddingInner": 0, "paddingOuter": 0}},
       "y": {"field": "mean", "type": "quantitative", "axis": null},
       "y2": {"field": "err"}
      }},
     {"data": {"name": "e2_bars"}, "mark": {"type": "tick", "size": 11, "thickness": 2, "color": "black"},
      "encoding": {
       "x": {"field": "genotype", "type": "nominal", "axis": null},
       "xOffset": {"field": "dox", "type": "nominal"},
       "y": {"field": "err", "type": "quantitative", "axis": null}
      }},
     {"data": {"name": "e2_bars"}, "mark": {"type": "bar", "stroke": "black", "strokeWidth": 2},
      "encoding": {
       "x": {"field": "genotype", "type": "nominal",
             "axis": {"orient": "bottom", "tickBand": "extent", "ticks": true, "tickSize": 5, "domain": true, "labelAngle": -62, "labelAlign": "right", "labelBaseline": "middle", "labelOffset": 30, "labelPadding": 6, "labelFontWeight": "normal", "labelFontSize": 11.5, "title": null}},
       "xOffset": {"field": "dox", "type": "nominal"},
       "y": {"field": "mean", "type": "quantitative", "scale": {"domain": [0, 30], "nice": false},
             "axis": {"values": [0, 7.5, 15, 22.5, 30], "format": ".1f", "tickSize": 6, "labelPadding": 13, "title": "Relative mRNA levels", "titlePadding": 10}},
       "fill": {"field": "dox", "type": "nominal", "scale": {"domain": ["-Dox", "+Dox"], "range": ["white", "black"]},
                "legend": {"title": null, "orient": "none", "legendX": 179, "legendY": 8, "rowPadding": 2.2}}
      }},
     {"data": {"name": "e2_br"}, "mark": {"type": "line", "color": "black", "strokeWidth": 2.5, "strokeJoin": "miter"},
      "encoding": {
       "x": {"field": "genotype", "type": "nominal", "axis": null},
       "xOffset": {"field": "dox", "type": "nominal"},
       "y": {"field": "y", "type": "quantitative", "axis": null},
       "detail": {"field": "br", "type": "nominal"},
       "order": {"field": "ord", "type": "quantitative"}
      }},
     {"data": {"values": [{"genotype": "p53⁺/⁺;Sam68⁻/⁻", "y": 23.1, "label": "***"}]}, "mark": {"type": "text", "fontSize": 11, "fontWeight": "bold", "baseline": "middle", "dy": 3},
      "encoding": {
       "x": {"field": "genotype", "type": "nominal", "axis": null},
       "y": {"field": "y", "type": "quantitative", "axis": null},
       "text": {"field": "label"}
      }},
     {"data": {"values": [{"genotype": "p53⁺/⁺;Sam68⁻/⁻", "y": 28.3, "label": "n.s."}]}, "mark": {"type": "text", "fontSize": 12, "fontWeight": "normal", "baseline": "middle"},
      "encoding": {
       "x": {"field": "genotype", "type": "nominal", "bandPosition": 0.1, "axis": null},
       "y": {"field": "y", "type": "quantitative", "axis": null},
       "text": {"field": "label"}
      }}
    ],
    "resolve": {"axis": {"x": "independent", "y": "independent"}}
   }
  ]
 }
]
}
